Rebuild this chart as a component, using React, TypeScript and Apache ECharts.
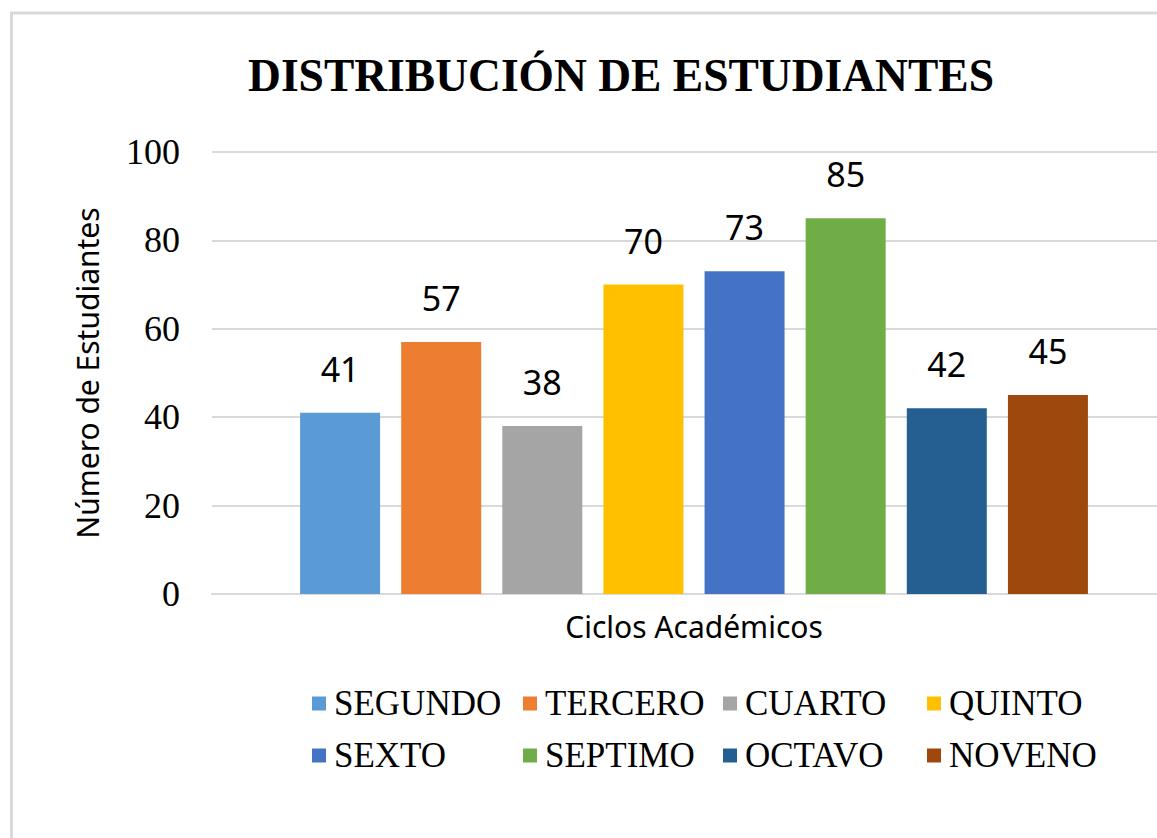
import React, { useEffect, useRef } from "react";
import * as echarts from "echarts";

const categories = ["Ciclos"];
const seriesNames = ["SEGUNDO", "TERCERO", "CUARTO", "QUINTO", "SEXTO", "SEPTIMO", "OCTAVO", "NOVENO"];
const seriesValues = [41, 57, 38, 70, 73, 85, 42, 45];
const seriesColors = ["#5B9BD5", "#ED7D31", "#A5A5A5", "#FFC000", "#4472C4", "#70AD47", "#255E91", "#9E480E"];
const legendColumns = [
  ["SEGUNDO", "SEXTO"],
  ["TERCERO", "SEPTIMO"],
  ["CUARTO", "OCTAVO"],
  ["QUINTO", "NOVENO"],
];
const legendLefts = [307, 518, 718, 922];

export default function App() {
  const ref = useRef<HTMLDivElement>(null);
  useEffect(() => {
    if (!ref.current) return;
    const chart = echarts.init(ref.current, undefined, { renderer: "svg" });
    const serif = "'Liberation Serif', 'Times New Roman', serif";
    const sans = "'Noto Sans', sans-serif";
    chart.setOption({
      animation: false,
      backgroundColor: "#ffffff",
      title: {
        text: "DISTRIBUCIÓN DE ESTUDIANTES",
        left: 616,
        textAlign: "center",
        top: 47,
        textStyle: { fontFamily: serif, fontWeight: "bold", fontSize: 45.5, color: "#000000" },
      },
      graphic: [
        {
          type: "rect",
          shape: { x: 11.5, y: 13, width: 1300, height: 1000 },
          style: { fill: "none", stroke: "#d9d9d9", lineWidth: 3 },
          silent: true,
        },
      ],
      legend: legendColumns.map((col, i) => ({
        data: col,
        orient: "vertical",
        left: legendLefts[i],
        top: 681,
        itemWidth: 14,
        itemHeight: 14,
        itemGap: 17,
        icon: "rect",
        textStyle: { fontFamily: serif, fontSize: 35, color: "#000000", padding: [0, 0, 0, 3] },
      })),
      grid: { left: 212, top: 152, width: 964, height: 442 },
      xAxis: {
        type: "category",
        data: categories,
        name: "Ciclos Académicos",
        nameLocation: "middle",
        nameGap: 17,
        nameTextStyle: { fontFamily: sans, fontSize: 30, color: "#000000", verticalAlign: "top" },
        axisLine: { lineStyle: { color: "#d9d9d9", width: 2 } },
        axisTick: { show: false },
        axisLabel: { show: false },
      },
      yAxis: {
        type: "value",
        min: 0,
        max: 100,
        interval: 20,
        name: "Número de Estudiantes",
        nameLocation: "middle",
        nameGap: 110,
        nameTextStyle: { fontFamily: sans, fontSize: 30, color: "#000000" },
        axisLine: { show: false },
        axisTick: { show: false },
        axisLabel: { fontFamily: serif, fontSize: 36, color: "#000000", margin: 32 },
        splitLine: { lineStyle: { color: "#d9d9d9", width: 2 } },
      },
      series: seriesNames.map((name, i) => ({
        name,
        type: "bar",
        data: [seriesValues[i]],
        barWidth: 80,
        barGap: "26.4%",
        itemStyle: { color: seriesColors[i] },
        label: {
          show: true,
          position: "top",
          distance: 27,
          fontFamily: sans,
          fontSize: 34,
          color: "#000000",
        },
      })),
    });
    return () => chart.dispose();
  }, []);
  return (
    <div style={{ position: "absolute", left: 0, top: 0, width: 1157, height: 838, overflow: "hidden" }}>
      <div ref={ref} style={{ width: 1200, height: 838 }} />
    </div>
  );
}
